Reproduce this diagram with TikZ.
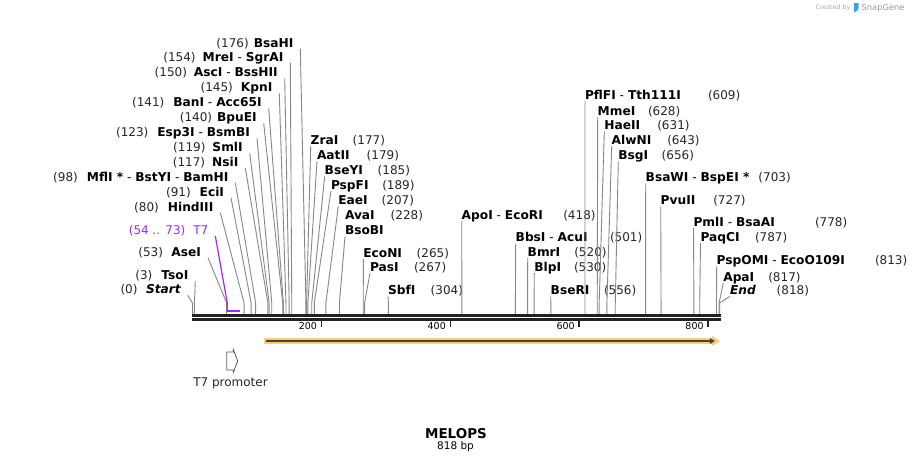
\documentclass[tikz,border=0pt]{standalone}
\usepackage{fontspec}
\setmainfont{DejaVu Sans}
\usetikzlibrary{arrows.meta}
\definecolor{cutline}{RGB}{135,135,135}
\definecolor{rulerline}{RGB}{34,34,34}
\definecolor{tsevenpurple}{RGB}{160,40,240}
\definecolor{bandfill}{RGB}{251,204,126}
\definecolor{banddark}{RGB}{80,66,48}
\definecolor{promline}{RGB}{90,90,90}
\definecolor{creditgray}{RGB}{170,170,170}
\definecolor{snapblue}{RGB}{60,160,230}
\newcommand{\enzdash}{\textmd{ - }}

\begin{document}
\begin{tikzpicture}[x=1pt, y=-1pt,
  enz/.style={font=\fontsize{12.2}{14}\selectfont\bfseries, inner sep=0pt, outer sep=0pt},
  num/.style={font=\fontsize{12}{14}\selectfont, inner sep=0pt, outer sep=0pt, text=black!85},
  lft/.style={anchor=base east},
  rgt/.style={anchor=base west},
  cut/.style={draw=cutline, line width=0.9pt},
  featline/.style={draw=tsevenpurple, line width=1.2pt},
  featbar/.style={draw=tsevenpurple, line width=2pt},
  ruler/.style={draw=rulerline, line width=3pt},
  tick/.style={draw=rulerline, line width=1.6pt},
  ticklbl/.style={font=\fontsize{9.5}{11}\selectfont, inner sep=0pt, outer sep=0pt, anchor=base east},
]
\fill[white] (0,0) rectangle (913,464);
\useasboundingbox (0,0) rectangle (913,464);

% ---- Enzyme labels, left fan ----
\node[enz, lft] (bsahi)   at (293.3,47)   {BsaHI};             \node[num, lft] (bsahi-n)   at ([xshift=-5pt]bsahi.base west)   {(176)};
\node[enz, lft] (mrei)    at (283.3,61.5) {MreI\enzdash SgrAI};  \node[num, lft] (mrei-n)    at ([xshift=-7pt]mrei.base west)    {(154)};
\node[enz, lft] (asci)    at (277.7,76.6) {AscI\enzdash BssHII}; \node[num, lft] (asci-n)    at ([xshift=-7pt]asci.base west)    {(150)};
\node[enz, lft] (kpni)    at (272.3,91.8) {KpnI};              \node[num, lft] (kpni-n)    at ([xshift=-8pt]kpni.base west)    {(145)};
\node[enz, lft] (bani)    at (261.7,106.6){BanI\enzdash Acc65I}; \node[num, lft] (bani-n)    at ([xshift=-9pt]bani.base west)    {(141)};
\node[enz, lft] (bpuei)   at (256.7,121.6){BpuEI};             \node[num, lft] (bpuei-n)   at ([xshift=-5pt]bpuei.base west)   {(140)};
\node[enz, lft] (esp3i)   at (250,136.6)  {Esp3I\enzdash BsmBI}; \node[num, lft] (esp3i-n)   at ([xshift=-9pt]esp3i.base west)   {(123)};
\node[enz, lft] (smli)    at (242.7,151.6){SmlI};              \node[num, lft] (smli-n)    at ([xshift=-7pt]smli.base west)    {(119)};
\node[enz, lft] (nsii)    at (238.3,166.3){NsiI};              \node[num, lft] (nsii-n)    at ([xshift=-7pt]nsii.base west)    {(117)};
\node[enz, lft] (mfli)    at (228.3,181)  {MflI *\enzdash BstYI\enzdash BamHI}; \node[num, lft] (mfli-n) at ([xshift=-9pt]mfli.base west) {(98)};
\node[enz, lft] (ecii)    at (224,196)    {EciI};              \node[num, lft] (ecii-n)    at ([xshift=-9pt]ecii.base west)    {(91)};
\node[enz, lft] (hindiii) at (213.3,211)  {HindIII};           \node[num, lft] (hindiii-n) at ([xshift=-9pt]hindiii.base west) {(80)};
\node[num, lft, text=tsevenpurple] (t7) at (208.3,234.3) {T7}; \node[num, lft, text=tsevenpurple] (t7-n) at ([xshift=-8pt]t7.base west) {(54 .. 73)};
\node[enz, lft] (asei)    at (201,256)    {AseI};              \node[num, lft] (asei-n)    at ([xshift=-8.5pt]asei.base west)  {(53)};
\node[enz, lft] (tsoi)    at (188.3,279.3){TsoI};              \node[num, lft] (tsoi-n)    at ([xshift=-9pt]tsoi.base west)    {(3)};
\node[enz, lft] (startpt) at (180.7,293.6){\itshape Start};    \node[num, lft] (startpt-n) at ([xshift=-8.5pt]startpt.base west) {(0)};

% ---- Enzyme labels, right fan ----
\node[enz, rgt] (zrai)   at (310.7,144.3) {ZraI};   \node[num, rgt] (zrai-n)   at (352.7,144.3) {(177)};
\node[enz, rgt] (aatii)  at (317,159.3)   {AatII};  \node[num, rgt] (aatii-n)  at (366.7,159.3) {(179)};
\node[enz, rgt] (bseyi)  at (324.7,174.3) {BseYI};  \node[num, rgt] (bseyi-n)  at (377.7,174.3) {(185)};
\node[enz, rgt] (pspfi)  at (331,189)     {PspFI};  \node[num, rgt] (pspfi-n)  at (382.3,189)   {(189)};
\node[enz, rgt] (eaei)   at (338.3,204.3) {EaeI};   \node[num, rgt] (eaei-n)   at (381.7,204.3) {(207)};
\node[enz, rgt] (avai)   at (345,219.3)   {AvaI};   \node[num, rgt] (avai-n)   at (390.7,219.3) {(228)};
\node[enz, rgt] (bsobi)  at (345,234.3)   {BsoBI};
\node[enz, rgt] (econi)  at (363.3,257)   {EcoNI};  \node[num, rgt] (econi-n)  at (416.7,257)   {(265)};
\node[enz, rgt] (pasi)   at (370,271)     {PasI};   \node[num, rgt] (pasi-n)   at (414,271)     {(267)};
\node[enz, rgt] (sbfi)   at (388,294.3)   {SbfI};   \node[num, rgt] (sbfi-n)   at (430.7,294.3) {(304)};
\node[enz, rgt] (apoi)   at (461.7,219.3) {ApoI\enzdash EcoRI}; \node[num, rgt] (apoi-n) at (563.3,219.3) {(418)};
\node[enz, rgt] (bbsi)   at (515.7,241.6) {BbsI\enzdash AcuI};  \node[num, rgt] (bbsi-n) at (610,241.6)   {(501)};
\node[enz, rgt] (bmri)   at (527.7,256)   {BmrI};   \node[num, rgt] (bmri-n)   at (574.3,256)   {(520)};
\node[enz, rgt] (blpi)   at (534.3,271)   {BlpI};   \node[num, rgt] (blpi-n)   at (574,271)     {(530)};
\node[enz, rgt] (bseri)  at (550.7,294.3) {BseRI};  \node[num, rgt] (bseri-n)  at (604,294.3)   {(556)};
\node[enz, rgt] (pflfi)  at (585,99.3)    {PflFI\enzdash Tth111I}; \node[num, rgt] (pflfi-n) at (708,99.3) {(609)};
\node[enz, rgt] (mmei)   at (597.7,115)   {MmeI};   \node[num, rgt] (mmei-n)   at (648,115)     {(628)};
\node[enz, rgt] (haeii)  at (604.3,129.3) {HaeII};  \node[num, rgt] (haeii-n)  at (657.3,129.3) {(631)};
\node[enz, rgt] (alwni)  at (611.7,144.3) {AlwNI};  \node[num, rgt] (alwni-n)  at (667.3,144.3) {(643)};
\node[enz, rgt] (bsgi)   at (618.3,159.3) {BsgI};   \node[num, rgt] (bsgi-n)   at (661.7,159.3) {(656)};
\node[enz, rgt] (bsawi)  at (645.7,181.6) {BsaWI\enzdash BspEI *}; \node[num, rgt] (bsawi-n) at ([xshift=9pt]bsawi.base east) {(703)};
\node[enz, rgt] (pvuii)  at (660.7,204.3) {PvuII};  \node[num, rgt] (pvuii-n)  at (713.3,204.3) {(727)};
\node[enz, rgt] (pmli)   at (693.5,226)   {PmlI\enzdash BsaAI}; \node[num, rgt] (pmli-n) at (815,226) {(778)};
\node[enz, rgt] (paqci)  at (700.5,241)   {PaqCI};  \node[num, rgt] (paqci-n)  at (755,241)     {(787)};
\node[enz, rgt] (pspomi) at (716.7,264.3) {PspOMI\enzdash EcoO109I}; \node[num, rgt] (pspomi-n) at (875,264.3) {(813)};
\node[enz, rgt] (apai)   at (723.3,281)   {ApaI};   \node[num, rgt] (apai-n)   at (768.3,281)   {(817)};
\node[enz, rgt] (endpt)  at (730,294.3)   {\itshape End}; \node[num, rgt] (endpt-n) at (776.7,294.3) {(818)};

% ---- Cut sites on the ruler ----
\coordinate (elbow) at (0,303);
\foreach \s in {0,3,53,80,91,98,117,119,123,140,141,145,150,154,176,177,179,185,189,
                207,228,265,267,304,418,501,520,530,556,609,628,631,643,656,703,727,
                778,787,813,817,818}
  \coordinate (c\s) at ({192.5+0.6445*\s},314);

\foreach \a/\s in {bsahi/176, mrei/154, asci/150, kpni/145, bani/141, bpuei/140,
                   esp3i/123, smli/119, nsii/117, mfli/98, ecii/91, hindiii/80,
                   asei/53, tsoi/3, startpt/0}
  \draw[cut] ([xshift=7pt,yshift=-1.7pt]\a.base east) -- (c\s |- elbow) -- (c\s);
\foreach \a/\s in {zrai/177, aatii/179, bseyi/185, pspfi/189, eaei/207, bsobi/228,
                   econi/265, pasi/267, sbfi/304, apoi/418, bbsi/501, bmri/520,
                   blpi/530, bseri/556, pflfi/609, mmei/628, haeii/631, alwni/643,
                   bsgi/656, bsawi/703, pvuii/727, pmli/778, paqci/787, pspomi/813,
                   apai/817, endpt/818}
  \draw[cut] ([yshift=-2pt]\a.base west) -- (c\s |- elbow) -- (c\s);

% ---- T7 feature mark ----
\coordinate (f54) at (227.3,310.7);
\coordinate (f73) at (239.5,310.7);
\draw[featline] ([xshift=7pt,yshift=-1.7pt]t7.base east) -- (f54 |- elbow) -- (f54);
\draw[featbar] (f54) -- (f73);

% ---- Ruler ----
\coordinate (rs) at (192,315.5);
\coordinate (re) at (720.7,315.5);
\draw[ruler] (rs) -- (re);
\draw[ruler, line width=2.7pt] ([yshift=-4pt]rs) -- ([yshift=-4pt]re);
\foreach \t in {200,400,600,800} {
  \coordinate (k\t) at ({192.5+0.6445*\t},321);
  \draw[tick] (k\t) -- ++(0,6);
  \node[ticklbl] (l\t) at ([xshift=-4.5pt,yshift=-8.5pt]k\t) {\t};
}

% ---- ORF arrow ----
\coordinate (oa) at (264,341);
\coordinate (ob) at (720,341);
\draw[draw=bandfill, line width=5.5pt, -{Triangle[length=8pt,width=10pt]}] (oa) -- (ob);
\draw[draw=banddark, line width=1.7pt, -{Triangle[length=5pt,width=5.5pt]}] ([xshift=2pt]oa) -- ([xshift=-5pt]ob);

% ---- T7 promoter ----
\draw[promline, line width=0.8pt] (226.7,352) -- (233.3,352) -- (233.3,349.5) -- (237.7,361)
  -- (233.3,372.5) -- (233.3,370) -- (226.7,370) -- cycle;
\node[num, anchor=base] (t7p) at (230.5,386.3) {T7 promoter};

% ---- Title ----
\node[font=\fontsize{13.5}{15}\selectfont\bfseries, inner sep=0pt, anchor=base] (title) at (456,438) {MELOPS};
\node[font=\fontsize{10.5}{12}\selectfont, inner sep=0pt, anchor=base] (size) at (455.5,449.5) {818 bp};

% ---- Credit ----
\node[font=\fontsize{6.3}{7}\selectfont, text=creditgray, inner sep=0pt, anchor=east] (credit) at (850.5,8) {Created by};
\fill[snapblue] (854,3) -- (858.5,3) -- (858.5,8.5) .. controls (858.5,10.5) and (856,11) .. (854,12.5) -- cycle;
\node[font=\fontsize{8.3}{9}\selectfont, text=creditgray!90!black, inner sep=0pt, anchor=west] (snap) at (861.5,8) {SnapGene};
\end{tikzpicture}
\end{document}
